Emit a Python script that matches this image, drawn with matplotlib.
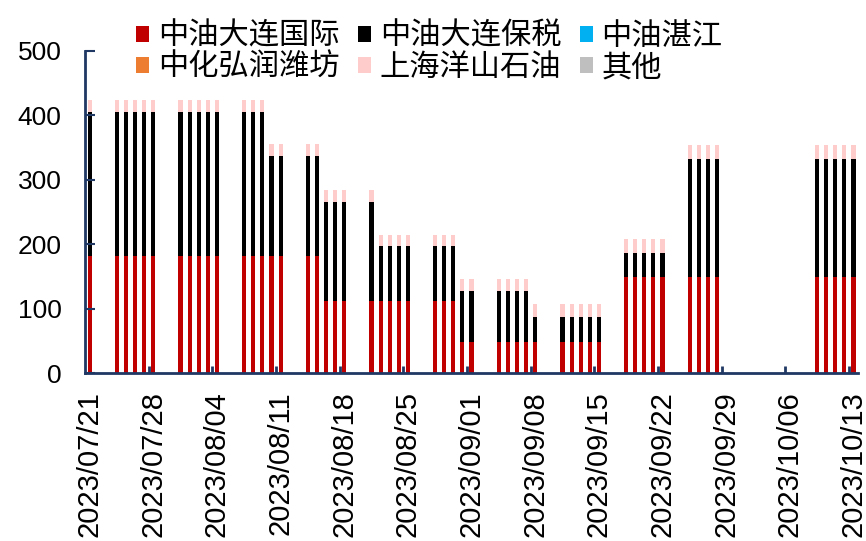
import matplotlib
matplotlib.use("Agg")
import matplotlib.pyplot as plt
import numpy as np
import pandas as pd
from matplotlib.patches import Patch

# ---------------- data ----------------
dates = (
    ["2023/07/21"]
    + ["2023/07/24", "2023/07/25", "2023/07/26", "2023/07/27", "2023/07/28"]
    + ["2023/07/31", "2023/08/01", "2023/08/02", "2023/08/03", "2023/08/04"]
    + ["2023/08/07", "2023/08/08", "2023/08/09", "2023/08/10", "2023/08/11"]
    + ["2023/08/14", "2023/08/15", "2023/08/16", "2023/08/17", "2023/08/18"]
    + ["2023/08/21", "2023/08/22", "2023/08/23", "2023/08/24", "2023/08/25"]
    + ["2023/08/28", "2023/08/29", "2023/08/30", "2023/08/31", "2023/09/01"]
    + ["2023/09/04", "2023/09/05", "2023/09/06", "2023/09/07", "2023/09/08"]
    + ["2023/09/11", "2023/09/12", "2023/09/13", "2023/09/14", "2023/09/15"]
    + ["2023/09/18", "2023/09/19", "2023/09/20", "2023/09/21", "2023/09/22"]
    + ["2023/09/25", "2023/09/26", "2023/09/27", "2023/09/28"]
    + ["2023/10/09", "2023/10/10", "2023/10/11", "2023/10/12", "2023/10/13"]
)

dalian_intl = (
    [182]
    + [182] * 5
    + [182] * 5
    + [182] * 5
    + [182, 182, 112, 112, 112]
    + [112] * 5
    + [112, 112, 112, 48, 48]
    + [48] * 5
    + [48] * 5
    + [149] * 5
    + [149] * 4
    + [149] * 5
)
dalian_bonded = (
    [223]
    + [223] * 5
    + [223] * 5
    + [223, 223, 223, 155, 155]
    + [155, 155, 154, 154, 154]
    + [154, 85, 85, 85, 85]
    + [85, 85, 85, 80, 80]
    + [80, 80, 80, 80, 40]
    + [40] * 5
    + [37] * 5
    + [184] * 4
    + [184] * 5
)
zhanjiang = [0] * len(dates)
hongrun = [0] * len(dates)
yangshan = (
    [19]
    + [19] * 5
    + [19] * 5
    + [19, 19, 19, 18, 18]
    + [18, 18, 19, 19, 19]
    + [19, 18, 18, 18, 18]
    + [18, 18, 18, 18, 18]
    + [18, 18, 18, 18, 19]
    + [19] * 5
    + [21.5] * 5
    + [21.5] * 4
    + [21.5] * 5
)
others = [0] * len(dates)

series_names = ["中油大连国际", "中油大连保税", "中油湛江", "中化弘润潍坊", "上海洋山石油", "其他"]
series_values = [dalian_intl, dalian_bonded, zhanjiang, hongrun, yangshan, others]
series_colors = ["#C00000", "#000000", "#00B0F0", "#ED7D31", "#FFCCCC", "#BFBFBF"]

label_dates = ["2023/07/21", "2023/07/28", "2023/08/04", "2023/08/11", "2023/08/18",
               "2023/08/25", "2023/09/01", "2023/09/08", "2023/09/15", "2023/09/22",
               "2023/09/29", "2023/10/06", "2023/10/13"]

# ---------------- plotting ----------------
plt.rcParams['font.family'] = ['Liberation Sans', 'Noto Sans CJK SC', 'DejaVu Sans']

start = pd.Timestamp("2023-07-21")
x = np.array([(pd.Timestamp(d.replace("/", "-")) - start).days for d in dates], dtype=float)
xl = np.array([(pd.Timestamp(d.replace("/", "-")) - start).days for d in label_dates], dtype=float)

fig = plt.figure(figsize=(8.66, 5.41), dpi=100)
ax = fig.add_axes([0.0982, 0.31, 0.8926, 0.596])

axis_color = "#203864"
bottom = np.zeros(len(x))
for name, vals, col in zip(series_names, series_values, series_colors):
    v = np.array(vals, dtype=float)
    ax.bar(x, v, width=0.45, bottom=bottom, color=col, linewidth=0, label=name)
    bottom += v

ax.set_xlim(-0.5, 84.5)
ax.set_ylim(0, 500)
ax.set_yticks([0, 100, 200, 300, 400, 500])
ax.tick_params(axis='y', direction='in', length=7, width=1.5, color=axis_color,
               labelsize=19, pad=17)

ax.set_xticks(xl)
ax.set_xticklabels(label_dates, rotation=90, fontsize=21)
ax.tick_params(axis='x', which='major', length=0, pad=13)
ax.set_xticks(np.arange(6.5, 85, 7), minor=True)
ax.tick_params(axis='x', which='minor', direction='in', length=5, width=2, color=axis_color)

for s in ["top", "right"]:
    ax.spines[s].set_visible(False)
for s in ["left", "bottom"]:
    ax.spines[s].set_color(axis_color)
    ax.spines[s].set_linewidth(2)

handles = [Patch(facecolor=c, edgecolor='none') for c in series_colors]
order = [0, 3, 1, 4, 2, 5]
leg = fig.legend([handles[i] for i in order], [series_names[i] for i in order],
                 ncol=3, loc='upper left', bbox_to_anchor=(0.157, 0.962),
                 frameon=False, prop={'family': ['Noto Sans CJK SC'], 'size': 21.8},
                 handlelength=0.43, handleheight=0.43, handletextpad=0.3,
                 columnspacing=0.6, labelspacing=0.02, borderpad=0, borderaxespad=0)

fig.savefig("out.png", dpi=100)
